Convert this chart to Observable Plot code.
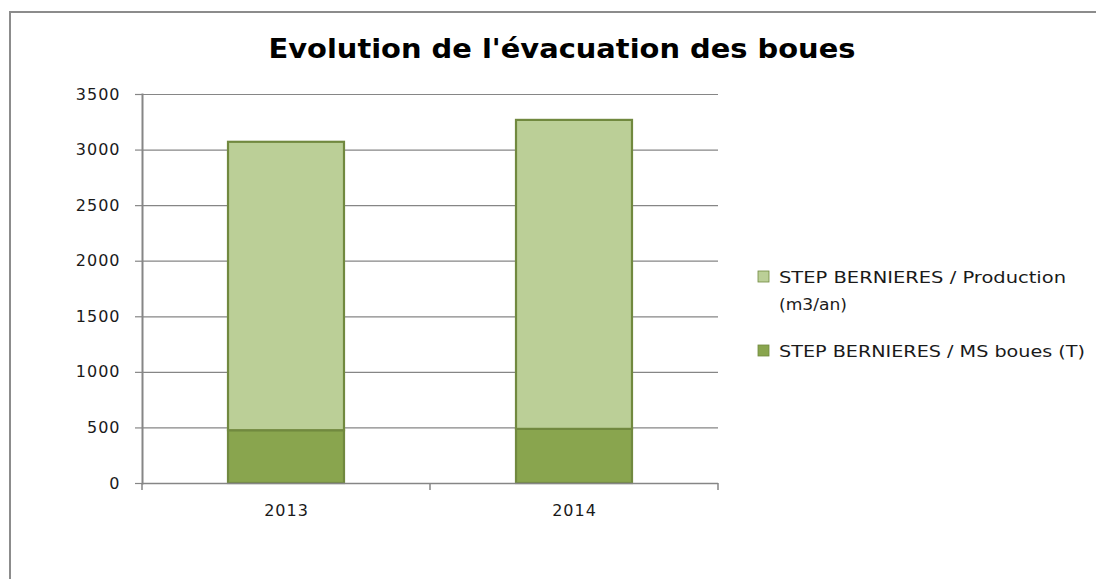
<!DOCTYPE html>
<html><head><meta charset="utf-8">
<script src="https://cdn.jsdelivr.net/npm/d3@7"></script>
<script src="https://cdn.jsdelivr.net/npm/@observablehq/plot@0.6"></script>
<style>
body{margin:0;background:#fff;}
#wrap{position:relative;width:1096px;height:579px;overflow:hidden;background:#fff;}
#border{position:absolute;left:9px;top:11px;width:1200px;height:700px;border-top:2px solid #8c8c8c;border-left:2px solid #8c8c8c;}
#chart{position:absolute;left:0;top:0;}
#overlay{position:absolute;left:0;top:0;pointer-events:none;}
</style></head><body>
<div id="wrap"><div id="border"></div><div id="chart"></div><svg id="overlay" width="1096" height="579"></svg></div>
<script>
const title = "Evolution de l'évacuation des boues";
const years = ["2013", "2014"];
const seriesNames = ["STEP BERNIERES / MS boues (T)", "STEP BERNIERES / Production (m3/an)"];
const msBoues = [475, 487];
const production = [2595, 2780];
const seriesColors = ["#89A54E", "#BBCF97"];
const barStroke = "#71893F";
const yTicks = [0, 500, 1000, 1500, 2000, 2500, 3000, 3500];
const legendOrder = [1, 0];
const legendLines = [["STEP BERNIERES / Production", "(m3/an)"], ["STEP BERNIERES / MS boues (T)"]];

const rows = [];
years.forEach((yr, i) => {
  rows.push({year: yr, series: seriesNames[0], value: msBoues[i]});
  rows.push({year: yr, series: seriesNames[1], value: production[i]});
});

const W = 1096, H = 579;
const pad = 0.597;
const plot = Plot.plot({
  width: W, height: H,
  marginLeft: 142, marginRight: W - 718, marginTop: 94, marginBottom: H - 483,
  style: {fontFamily: "'DejaVu Sans', sans-serif", fontSize: "16px", color: "#1a1a1a", background: "transparent", letterSpacing: "1px"},
  x: {domain: years, paddingInner: pad, paddingOuter: pad / 2, label: null},
  y: {domain: [0, 3500], ticks: yTicks, label: null, tickFormat: d => String(d)},
  color: {domain: seriesNames, range: seriesColors},
  marks: [
    Plot.gridY(yTicks, {stroke: "#868686", strokeOpacity: 1, strokeWidth: 1.2}),
    Plot.axisY(yTicks, {tickSize: 7, tickPadding: 15, stroke: "#868686", strokeWidth: 1.2, label: null, fill: "#1a1a1a", fontSize: 16, tickFormat: d => String(d)}),
    Plot.axisX({tickSize: 0, tickPadding: 21, label: null, fill: "#1a1a1a", fontSize: 16}),
    Plot.barY(rows, {x: "year", y: "value", fill: "series", stroke: barStroke, strokeWidth: 2.2}),
    Plot.ruleY([0], {stroke: "#868686", strokeWidth: 1.5}),
    Plot.frame({anchor: "left", stroke: "#868686", strokeWidth: 2})
  ]
});
document.getElementById("chart").appendChild(plot);

// category boundary ticks under the x axis
const xs = plot.scale("x"), ys = plot.scale("y");
const y0 = ys.apply(0);
const b0 = xs.apply(years[0]) - (xs.step - xs.bandwidth) / 2;
const svgSel = d3.select(plot);
for (let i = 0; i <= years.length; i++) {
  const bx = b0 + i * xs.step;
  svgSel.append("line").attr("x1", bx).attr("x2", bx).attr("y1", y0).attr("y2", y0 + 7)
    .attr("stroke", "#868686").attr("stroke-width", 1.5);
}

// title and legend
const ov = d3.select("#overlay");
ov.append("text").attr("x", 562).attr("y", 58).attr("text-anchor", "middle")
  .attr("font-family", "'DejaVu Sans', sans-serif").attr("font-weight", "bold").attr("font-size", 27)
  .attr("textLength", 587).attr("lengthAdjust", "spacingAndGlyphs").attr("fill", "#000").text(title);

const legendY = [271, 345];
const lineWidths = [[287, 68], [306]];
legendOrder.forEach((si, k) => {
  const top = legendY[k];
  ov.append("rect").attr("x", 758).attr("y", top).attr("width", 11).attr("height", 11)
    .attr("fill", seriesColors[si]).attr("stroke", barStroke).attr("stroke-width", 0.8);
  legendLines[k].forEach((ln, j) => {
    ov.append("text").attr("x", 779).attr("y", top + 12 + j * 27)
      .attr("font-family", "'DejaVu Sans', sans-serif").attr("font-size", 16.5)
      .attr("textLength", lineWidths[k][j]).attr("lengthAdjust", "spacingAndGlyphs")
      .attr("fill", "#1a1a1a").text(ln);
  });
});
</script></body></html>
